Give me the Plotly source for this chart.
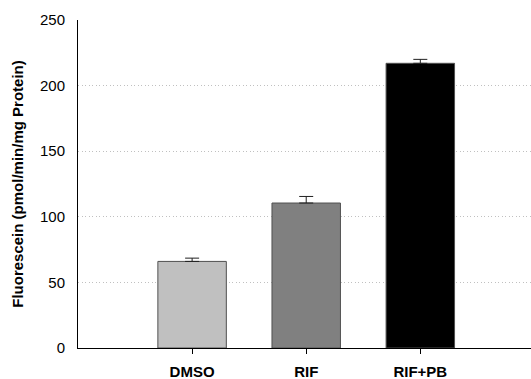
import plotly.graph_objects as go

categories = ["DMSO", "RIF", "RIF+PB"]
values = [66, 110.5, 217]
errors = [2.5, 5, 3]
bar_colors = ["#c0c0c0", "#808080", "#000000"]
y_ticks = [0, 50, 100, 150, 200, 250]

fig = go.Figure()
fig.add_trace(go.Bar(
    x=[0, 1, 2],
    y=values,
    marker=dict(color=bar_colors, line=dict(color="#505050", width=1)),
    error_y=dict(type="data", symmetric=False, array=errors,
                 arrayminus=[0] * len(errors),
                 color="#202020", thickness=1, width=7),
    width=0.6,
))

fig.update_layout(
    width=531, height=379,
    margin=dict(l=78, r=0, t=20, b=31),
    paper_bgcolor="white", plot_bgcolor="white",
    showlegend=False,
    font=dict(family="Liberation Sans, Arial, sans-serif", color="black", size=14),
    xaxis=dict(
        range=[-1, 2.97],
        automargin=False,
        tickmode="array", tickvals=[0, 1, 2], ticktext=categories,
        tickfont=dict(size=15, family="Liberation Sans, Arial, sans-serif", weight="bold"),
        showline=True, linecolor="black", linewidth=1,
        ticks="outside", ticklen=5, tickcolor="black",
        ticklabelstandoff=5,
        showgrid=False, zeroline=False,
    ),
    yaxis=dict(
        range=[0, 250],
        automargin=False,
        tickvals=y_ticks,
        tickfont=dict(size=15),
        showline=True, linecolor="black", linewidth=1,
        ticks="", ticklen=0,
        ticklabelstandoff=9,
        showgrid=True, gridcolor="#c0c0c0", griddash="1px,2.5px", gridwidth=1,
        zeroline=False,
        title=dict(text="Fluorescein (pmol/min/mg Protein)",
                   font=dict(size=15, weight="bold"), standoff=12),
    ),
)

fig.write_html("out.html", config={"displayModeBar": False},
               post_script="document.body.style.margin='0';document.body.style.overflow='hidden';")
